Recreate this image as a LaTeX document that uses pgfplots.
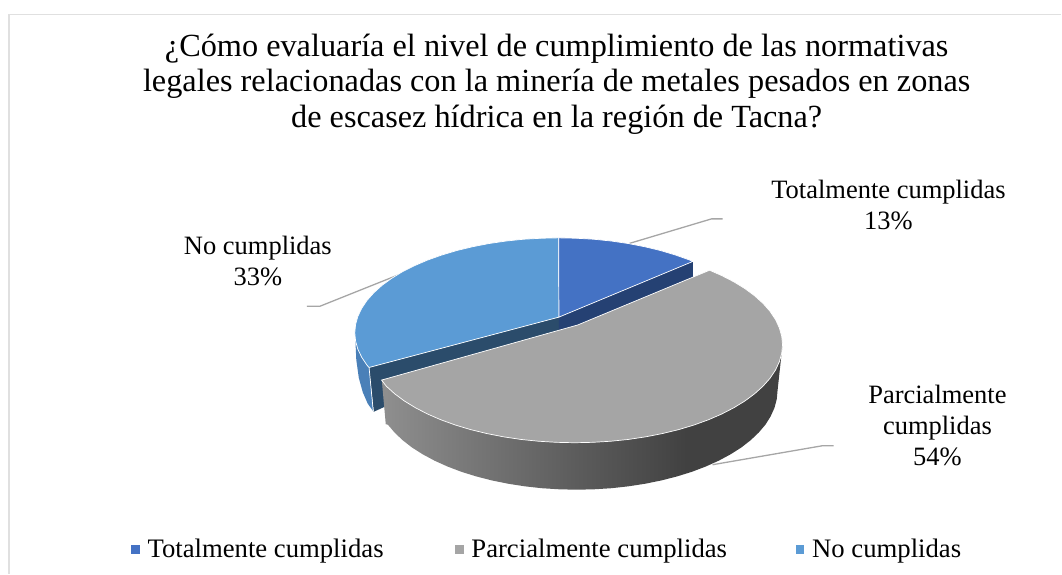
\documentclass[border=0pt]{standalone}
\usepackage{fontspec}
\setmainfont{Liberation Serif}
\usepackage{pgfplots}
\pgfplotsset{compat=1.18}
\definecolor{slDark}{HTML}{4472C4}
\definecolor{slGrey}{HTML}{A5A5A5}
\definecolor{slLight}{HTML}{5B9BD5}
\definecolor{sdDark}{HTML}{254173}
\definecolor{sdWall}{HTML}{2B4C6B}
\definecolor{sdLight}{HTML}{4A80B8}
\definecolor{leader}{HTML}{A6A6A6}
\definecolor{frameline}{HTML}{E0E0E0}
\definecolor{gA}{HTML}{8F8F8F}
\definecolor{gB}{HTML}{757575}
\definecolor{gC}{HTML}{5C5C5C}
\definecolor{gD}{HTML}{484848}
\definecolor{gE}{HTML}{414141}
\pgfdeclarehorizontalshading{greyside}{100bp}{color(0bp)=(gA); color(25bp)=(gA); color(37.2bp)=(gB); color(49.3bp)=(gC); color(59.7bp)=(gD); color(63bp)=(gE); color(100bp)=(gE)}
\newcommand{\lab}{\fontsize{26.5}{31}\selectfont}
\newcommand{\leg}{\fontsize{26.7}{31}\selectfont}
\newcommand{\ttl}{\fontsize{32.3}{36}\selectfont}
\begin{document}
\begin{tikzpicture}
\begin{axis}[
  width=1062pt, height=574pt, scale only axis,
  xmin=0, xmax=1062, ymin=0, ymax=574, y dir=reverse,
  axis lines=none, clip=false
]
% page extent
\addplot[draw=none] coordinates {(0,0) (1062,574)};
% frame
\addplot[frameline, line width=1.3pt] coordinates {(9,574) (9,14.5) (1062,14.5)};
% leader lines
\addplot[leader, line width=1.3pt] coordinates {(630,243.5) (712,219) (723,219)};
\addplot[leader, line width=1.3pt] coordinates {(400,274.5) (320,306.5) (307,306.5)};
\addplot[leader, line width=1.3pt] coordinates {(713,465) (823,446) (834,446)};
% outer wall of the No cumplidas slice
\addplot[draw=none, fill=sdLight] coordinates {(355.5,338) (358.1,349.5) (362,357.6) (367.3,365.5) (369.3,367.7) (373.5,411.5) (368,404) (363,392.5) (359,378) (356.5,360)} -- cycle;
% inner wall of the No cumplidas slice
\addplot[draw=none, fill=sdWall] coordinates {(369.3,367.7) (559.3,317.3) (559.3,345) (390,405) (385,407) (374,412)} -- cycle;
\addplot[white, line width=0.7pt] coordinates {(369.3,367.7) (373.5,411.5)};
% wall of the Totalmente slice
\addplot[draw=none, fill=sdDark] coordinates {(559.3,317.3) (693.3,261.6) (693.3,277.5) (559.3,340)} -- cycle;
% top of No cumplidas
\addplot[draw=white, line width=0.7pt, fill=slLight] coordinates {(559.3,317.3) (559,238) (541.2,238.4) (523.6,239.4) (506.2,241.2) (489.2,243.7) (472.8,246.9) (457,250.7) (442,255.2) (427.9,260.2) (414.8,265.8) (402.7,271.9) (391.9,278.5) (382.3,285.5) (374.1,292.9) (367.3,300.5) (362,308.4) (358.1,316.5) (355.8,324.7) (355,333) (355.8,341.3) (358.1,349.5) (362,357.6) (367.3,365.5) (369.3,367.7)} -- cycle;
% top of Totalmente
\addplot[draw=white, line width=0.7pt, fill=slDark] coordinates {(559.3,317.3) (559,238) (576.8,238.4) (594.4,239.4) (611.8,241.2) (628.8,243.7) (645.2,246.9) (661,250.7) (676,255.2) (690.1,260.2) (693.3,261.6)} -- cycle;
% wall of Parcialmente
\addplot[draw=none, shade, shading=greyside] coordinates {(783,345) (778,391) (777.2,399.6) (774.9,408.2) (771.1,416.6) (765.9,424.9) (759.2,432.8) (751.1,440.5) (741.7,447.8) (731,454.6) (719.1,461) (706.2,466.8) (692.3,472.1) (677.5,476.7) (661.9,480.7) (645.7,484) (629,486.6) (611.9,488.5) (594.5,489.6) (577,490) (559.5,489.6) (542.1,488.5) (525,486.6) (508.3,484) (492.1,480.7) (476.5,476.7) (461.7,472.1) (447.8,466.8) (434.9,461) (423,454.6) (412.3,447.8) (402.9,440.5) (394.8,432.8) (388.1,424.9) (386,424.5) (382,380)} -- cycle;
% top of Parcialmente
\addplot[draw=white, line width=0.7pt, fill=slGrey] coordinates {(578,325.2) (710,270.4) (722.1,275.7) (734.3,282) (745.4,288.8) (755.1,296) (763.5,303.6) (770.5,311.5) (775.9,319.6) (779.8,328) (782.2,336.5) (783,345) (782.2,353.5) (779.8,362) (775.9,370.4) (770.5,378.5) (763.5,386.4) (755.1,394) (745.4,401.2) (734.3,408) (722.1,414.3) (708.7,420.1) (694.3,425.3) (679,429.9) (662.9,433.8) (646.1,437.1) (628.8,439.7) (611.1,441.5) (593.1,442.6) (575,443) (556.9,442.6) (538.9,441.5) (521.2,439.7) (503.9,437.1) (487.1,433.8) (471,429.9) (455.7,425.3) (441.3,420.1) (427.9,414.3) (415.7,408) (404.6,401.2) (394.9,394) (386.5,386.4) (381.8,380.3)} -- cycle;
% legend keys
\addplot[only marks, color=slDark, mark=square*, mark size=3.8pt] coordinates {(135.3,549.8)};
\addplot[only marks, color=slGrey, mark=square*, mark size=3.8pt] coordinates {(459.5,549.8)};
\addplot[only marks, color=slLight, mark=square*, mark size=3.8pt] coordinates {(800,549.8)};
% title
\node[anchor=base, font=\ttl] at (axis cs:557,57) {¿Cómo evaluaría el nivel de cumplimiento de las normativas};
\node[anchor=base, font=\ttl] at (axis cs:557,92) {legales relacionadas con la minería de metales pesados en zonas};
\node[anchor=base, font=\ttl] at (axis cs:557,128) {de escasez hídrica en la región de Tacna?};
% data labels
\node[anchor=base, font=\lab] at (axis cs:889,199) {Totalmente cumplidas};
\node[anchor=base, font=\lab] at (axis cs:889,230) {13\%};
\node[anchor=base, font=\lab] at (axis cs:258,255) {No cumplidas};
\node[anchor=base, font=\lab] at (axis cs:258,286) {33\%};
\node[anchor=base, font=\lab] at (axis cs:938,404) {Parcialmente};
\node[anchor=base, font=\lab] at (axis cs:938,435) {cumplidas};
\node[anchor=base, font=\lab] at (axis cs:938,466) {54\%};
% legend text
\node[anchor=base west, inner sep=0pt, font=\leg] at (axis cs:147.5,558) {Totalmente cumplidas};
\node[anchor=base west, inner sep=0pt, font=\leg] at (axis cs:471.5,558) {Parcialmente cumplidas};
\node[anchor=base west, inner sep=0pt, font=\leg] at (axis cs:812.5,558) {No cumplidas};
\end{axis}
\end{tikzpicture}
\end{document}
